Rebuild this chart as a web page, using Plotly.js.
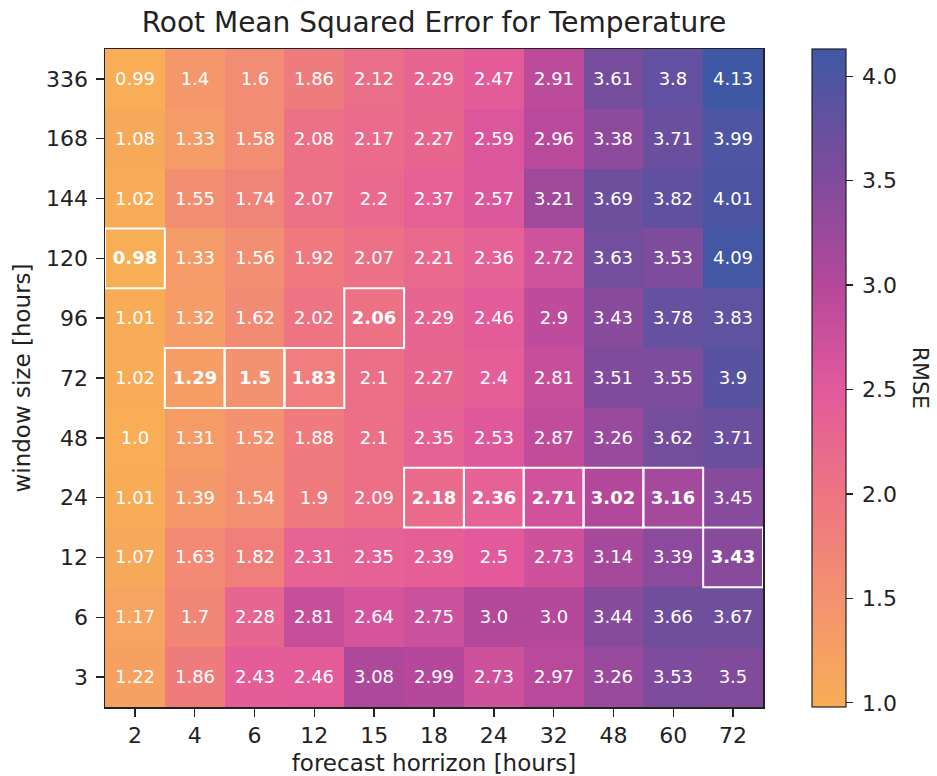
<!DOCTYPE html>
<html>
<head>
<meta charset="utf-8">
<script src="https://cdn.plot.ly/plotly-3.0.1.min.js"></script>
<style>html,body{margin:0;padding:0;background:#fff;}</style>
</head>
<body>
<div id="chart" style="width:937px;height:776px;"></div>
<script>
// forecast horizon (x) categories
const horizons = ['2','4','6','12','15','18','24','32','48','60','72'];
// window size (y) categories, bottom to top
const windows = ['3','6','12','24','48','72','96','120','144','168','336'];
// RMSE values, rows listed bottom (window 3) to top (window 336)
const rmse3   = [1.22,1.86,2.43,2.46,3.08,2.99,2.73,2.97,3.26,3.53,3.5];
const rmse6   = [1.17,1.7,2.28,2.81,2.64,2.75,3.0,3.0,3.44,3.66,3.67];
const rmse12  = [1.07,1.63,1.82,2.31,2.35,2.39,2.5,2.73,3.14,3.39,3.43];
const rmse24  = [1.01,1.39,1.54,1.9,2.09,2.18,2.36,2.71,3.02,3.16,3.45];
const rmse48  = [1.0,1.31,1.52,1.88,2.1,2.35,2.53,2.87,3.26,3.62,3.71];
const rmse72  = [1.02,1.29,1.5,1.83,2.1,2.27,2.4,2.81,3.51,3.55,3.9];
const rmse96  = [1.01,1.32,1.62,2.02,2.06,2.29,2.46,2.9,3.43,3.78,3.83];
const rmse120 = [0.98,1.33,1.56,1.92,2.07,2.21,2.36,2.72,3.63,3.53,4.09];
const rmse144 = [1.02,1.55,1.74,2.07,2.2,2.37,2.57,3.21,3.69,3.82,4.01];
const rmse168 = [1.08,1.33,1.58,2.08,2.17,2.27,2.59,2.96,3.38,3.71,3.99];
const rmse336 = [0.99,1.4,1.6,1.86,2.12,2.29,2.47,2.91,3.61,3.8,4.13];
// best (lowest RMSE) window size for each forecast horizon, as highlighted
const bestWindow = ['120','72','72','72','96','24','24','24','24','24','12'];
const cbTicks = [1.0,1.5,2.0,2.5,3.0,3.5,4.0];

const z = [rmse3,rmse6,rmse12,rmse24,rmse48,rmse72,rmse96,rmse120,rmse144,rmse168,rmse336];
const fmt = v => (Number.isInteger(v) ? v.toFixed(1) : String(v));
const text = z.map((row, r) => row.map((v, c) =>
  bestWindow[c] === windows[r] ? '<b>' + fmt(v) + '</b>' : fmt(v)));

const colorscale = [
  [0.0,  '#f8ae55'],
  [0.165,'#f39270'],
  [0.324,'#ee7482'],
  [0.483,'#e3599c'],
  [0.641,'#b5489b'],
  [0.800,'#814b9c'],
  [0.959,'#4d55a2'],
  [1.0,  '#3f58a6']
];

const shapes = bestWindow.map((w, c) => {
  const r = windows.indexOf(w);
  return {type:'rect', xref:'x', yref:'y', x0:c-0.5, x1:c+0.5, y0:r-0.5, y1:r+0.5,
          line:{color:'#ffffff', width:2}, fillcolor:'rgba(0,0,0,0)', layer:'above'};
});

const FAM = 'DejaVu Sans, sans-serif';
const INK = '#222222';

const trace = {
  type:'heatmap',
  x: horizons.map((_, i) => i),
  y: windows.map((_, i) => i),
  z: z,
  text: text,
  texttemplate: '%{text}',
  textfont: {family:FAM, size:18, color:'#ffffff'},
  colorscale: colorscale,
  zmin: 0.98, zmax: 4.13,
  xgap: 0, ygap: 0,
  hoverinfo: 'skip',
  colorbar: {
    x: 1.0745, xanchor:'left', xpad:0,
    y: 0.5, yanchor:'middle', len:1, lenmode:'fraction', ypad:0,
    thickness: 34, thicknessmode:'pixels',
    outlinewidth: 1.2, outlinecolor:INK,
    tickvals: cbTicks, ticktext: cbTicks.map(v => '\u2009' + v.toFixed(1)),
    ticks:'outside', ticklen:7, tickwidth:1.2, tickcolor:INK,
    tickfont: {family:FAM, size:22, color:INK}
  }
};

const layout = {
  width: 937, height: 776,
  margin: {l:105, r:174, t:49, b:69},
  paper_bgcolor:'#ffffff', plot_bgcolor:'#ffffff',
  font: {family:FAM, color:INK},
  title: {text:'Root Mean Squared Error for Temperature', x:0.5, xref:'paper', y:0.972, yanchor:'middle',
          font:{family:FAM, size:28, color:INK}},
  xaxis: {
    tickmode:'array', tickvals: horizons.map((_, i) => i), ticktext: horizons,
    range:[-0.5, horizons.length - 0.5],
    ticks:'outside', ticklen:8, tickwidth:1.5, tickcolor:INK,
    showline:true, mirror:true, linecolor:INK, linewidth:1.5,
    showgrid:false, zeroline:false,
    tickfont:{family:FAM, size:22, color:INK},
    title:{text:'forecast horrizon [hours]', standoff:9, font:{family:FAM, size:23, color:INK}}
  },
  yaxis: {
    tickmode:'array', tickvals: windows.map((_, i) => i), ticktext: windows,
    range:[-0.5, windows.length - 0.5],
    ticks:'outside', ticklen:8, tickwidth:1.5, tickcolor:INK,
    ticklabelstandoff:3,
    showline:true, mirror:true, linecolor:INK, linewidth:1.5,
    showgrid:false, zeroline:false,
    tickfont:{family:FAM, size:22, color:INK},
    title:{text:'window size [hours]', standoff:9, font:{family:FAM, size:23, color:INK}}
  },
  shapes: shapes,
  annotations: [{
    text:'RMSE', xref:'paper', yref:'paper', x:1.2405, y:0.5, textangle:90,
    showarrow:false, xanchor:'center', yanchor:'middle',
    font:{family:FAM, size:22, color:INK}
  }]
};

Plotly.newPlot('chart', [trace], layout, {displayModeBar:false, staticPlot:true});
</script>
</body>
</html>
